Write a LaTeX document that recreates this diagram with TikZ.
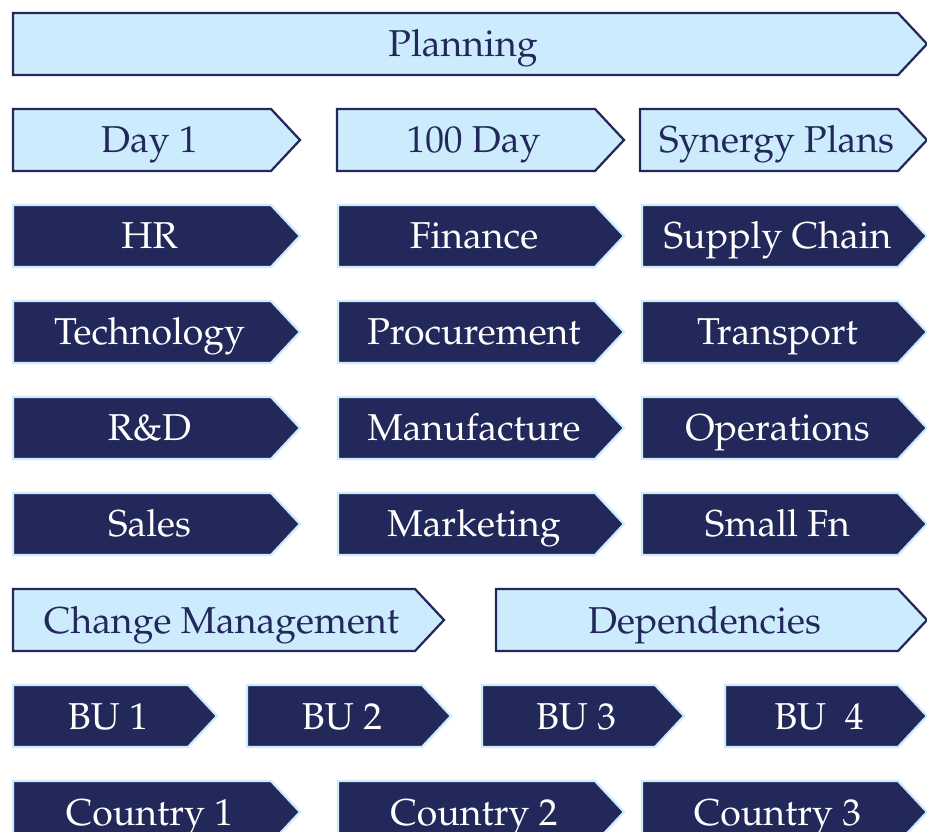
\documentclass[tikz,border=0pt]{standalone}
\usepackage[T1]{fontenc}
\usepackage{mathpazo}
\usepackage{tikz}

\definecolor{paleblue}{HTML}{CCEBFC}
\definecolor{navy}{HTML}{23285A}

% chevron box: name, style, left x, body end x, top y, label
\newcommand{\chev}[6]{%
    \draw[#2] (#3,#5) -- (#4,#5) -- (#4+29,#5+31) -- (#4,#5+62) -- (#3,#5+62) -- cycle;
    \node[#2 text] (#1) at ({(#3+#4+15)/2},#5+44) {#6};
}

\begin{document}
\begin{tikzpicture}[x=0.025cm, y=-0.025cm,
    light/.style={draw=navy, fill=paleblue, line width=1.6pt, line join=miter},
    dark/.style={draw=paleblue, fill=navy, line width=1.6pt, line join=miter},
    light text/.style={text=navy, anchor=base, inner sep=0pt, font=\fontsize{26.6}{30}\selectfont},
    dark text/.style={text=white, anchor=base, inner sep=0pt, font=\fontsize{26.6}{30}\selectfont}]
    \useasboundingbox (0,0) rectangle (927,832);
    % planning stages
    \chev{plan}{light}{13}{898}{13}{Planning}
    \chev{day}{light}{13}{271}{109}{Day 1}
    \chev{hund}{light}{337}{595}{109}{100 Day}
    \chev{syn}{light}{640}{898}{109}{Synergy Plans}
    % functions
    \chev{hr}{dark}{13}{271}{205}{HR}
    \chev{fin}{dark}{338}{595}{205}{Finance}
    \chev{supply}{dark}{642}{898}{205}{Supply Chain}
    \chev{tech}{dark}{13}{271}{301}{Technology}
    \chev{proc}{dark}{338}{595}{301}{Procurement}
    \chev{trans}{dark}{642}{898}{301}{Transport}
    \chev{rd}{dark}{13}{271}{397}{R\&D}
    \chev{manu}{dark}{338}{595}{397}{Manufacture}
    \chev{ops}{dark}{642}{898}{397}{Operations}
    \chev{sales}{dark}{13}{271}{493}{Sales}
    \chev{mkt}{dark}{338}{595}{493}{Marketing}
    \chev{small}{dark}{642}{898}{493}{Small Fn}
    % change and dependencies
    \chev{change}{light}{13}{415}{589}{Change Management}
    \chev{dep}{light}{496}{898}{589}{Dependencies}
    % business units
    \chev{bua}{dark}{13}{188}{685}{BU 1}
    \chev{bub}{dark}{247}{422}{685}{BU 2}
    \chev{buc}{dark}{482}{655}{685}{BU 3}
    \chev{bud}{dark}{725}{898}{685}{BU~~4}
    % countries
    \chev{ctya}{dark}{13}{271}{781}{Country 1}
    \chev{ctyb}{dark}{338}{595}{781}{Country 2}
    \chev{ctyc}{dark}{642}{898}{781}{Country 3}
\end{tikzpicture}
\end{document}
